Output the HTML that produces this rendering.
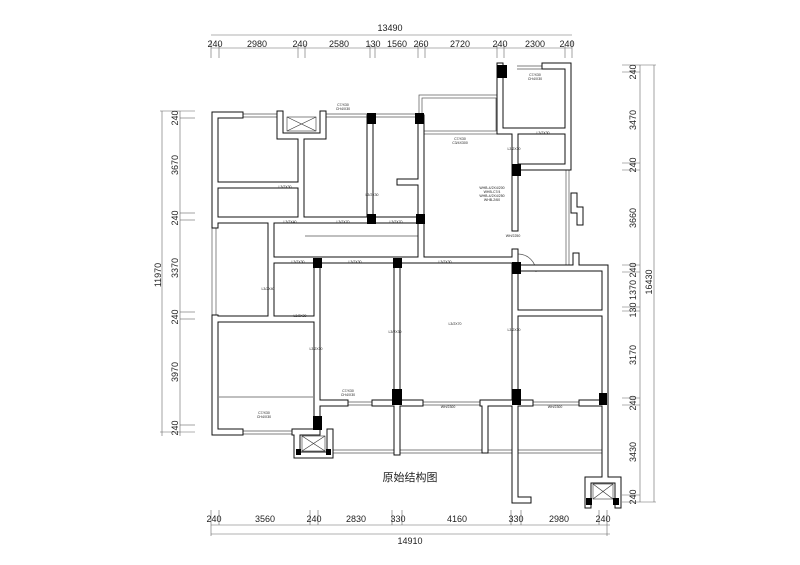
<!DOCTYPE html>
<html><head><meta charset="utf-8"><style>
html,body{margin:0;padding:0;background:#fff;width:800px;height:565px;overflow:hidden}
svg{display:block}
text{font-family:"Liberation Sans","Noto Sans CJK SC",sans-serif;fill:#222}
.d{font-size:9px}
.s{font-size:3.5px}
</style></head><body>
<svg width="800" height="565" viewBox="0 0 800 565" xmlns="http://www.w3.org/2000/svg">
<g stroke="#666" stroke-width="0.6" fill="none">
<line x1="211" y1="35" x2="572" y2="35"/>
<line x1="211" y1="48" x2="572" y2="48"/>
<g>
<line x1="211" y1="40" x2="211" y2="58"/><line x1="219" y1="44" x2="219" y2="58"/>
<line x1="298" y1="44" x2="298" y2="58"/><line x1="305" y1="44" x2="305" y2="58"/>
<line x1="370" y1="44" x2="370" y2="58"/><line x1="375" y1="44" x2="375" y2="58"/>
<line x1="418" y1="44" x2="418" y2="58"/><line x1="425" y1="44" x2="425" y2="58"/>
<line x1="497" y1="44" x2="497" y2="58"/><line x1="504" y1="44" x2="504" y2="58"/>
<line x1="565" y1="44" x2="565" y2="58"/><line x1="572" y1="40" x2="572" y2="58"/>
</g>
<line x1="211" y1="525" x2="610" y2="525"/>
<line x1="211" y1="534" x2="610" y2="534"/>
<line x1="211" y1="510" x2="211" y2="536"/><line x1="219" y1="510" x2="219" y2="525"/>
<line x1="310" y1="510" x2="310" y2="525"/><line x1="318" y1="510" x2="318" y2="525"/>
<line x1="392" y1="510" x2="392" y2="525"/><line x1="402" y1="510" x2="402" y2="525"/>
<line x1="511" y1="510" x2="511" y2="525"/><line x1="521" y1="510" x2="521" y2="525"/>
<line x1="599" y1="510" x2="599" y2="525"/><line x1="607" y1="510" x2="607" y2="536"/>
<line x1="162" y1="111" x2="162" y2="436"/>
<line x1="180" y1="111" x2="180" y2="436"/>
<g>
<line x1="160" y1="111" x2="195" y2="111"/><line x1="180" y1="118" x2="195" y2="118"/>
<line x1="180" y1="213" x2="195" y2="213"/><line x1="180" y1="220" x2="195" y2="220"/>
<line x1="180" y1="312" x2="195" y2="312"/><line x1="180" y1="319" x2="195" y2="319"/>
<line x1="180" y1="425" x2="195" y2="425"/><line x1="160" y1="432" x2="195" y2="432"/>
</g>
<line x1="640" y1="65" x2="640" y2="502"/>
<line x1="654" y1="65" x2="654" y2="502"/>
<g>
<line x1="622" y1="65" x2="656" y2="65"/><line x1="622" y1="72" x2="640" y2="72"/>
<line x1="622" y1="163" x2="640" y2="163"/><line x1="622" y1="170" x2="640" y2="170"/>
<line x1="622" y1="265" x2="640" y2="265"/><line x1="622" y1="272" x2="640" y2="272"/>
<line x1="622" y1="307" x2="640" y2="307"/><line x1="622" y1="311" x2="640" y2="311"/>
<line x1="622" y1="398" x2="640" y2="398"/><line x1="622" y1="405" x2="640" y2="405"/>
<line x1="622" y1="495" x2="640" y2="495"/><line x1="622" y1="502" x2="656" y2="502"/>
</g>
</g>
<g class="d" text-anchor="middle">
<text x="390" y="31">13490</text>
<text x="215" y="47">240</text><text x="257" y="47">2980</text><text x="300" y="47">240</text><text x="339" y="47">2580</text><text x="373" y="47">130</text><text x="397" y="47">1560</text><text x="421" y="47">260</text><text x="460" y="47">2720</text><text x="500" y="47">240</text><text x="535" y="47">2300</text><text x="567" y="47">240</text>
<text x="214" y="522">240</text><text x="265" y="522">3560</text><text x="314" y="522">240</text><text x="356" y="522">2830</text><text x="398" y="522">330</text><text x="457" y="522">4160</text><text x="516" y="522">330</text><text x="559" y="522">2980</text><text x="603" y="522">240</text>
<text x="410" y="544">14910</text>
<text transform="translate(178,118) rotate(-90)">240</text>
<text transform="translate(178,165) rotate(-90)">3670</text>
<text transform="translate(178,218) rotate(-90)">240</text>
<text transform="translate(178,268) rotate(-90)">3370</text>
<text transform="translate(178,317) rotate(-90)">240</text>
<text transform="translate(178,372) rotate(-90)">3970</text>
<text transform="translate(178,428) rotate(-90)">240</text>
<text transform="translate(161,275) rotate(-90)">11970</text>
<text transform="translate(636,72) rotate(-90)">240</text>
<text transform="translate(636,120) rotate(-90)">3470</text>
<text transform="translate(636,165) rotate(-90)">240</text>
<text transform="translate(636,218) rotate(-90)">3660</text>
<text transform="translate(636,270) rotate(-90)">240</text>
<text transform="translate(636,290) rotate(-90)">1370</text>
<text transform="translate(636,310) rotate(-90)">130</text>
<text transform="translate(636,355) rotate(-90)">3170</text>
<text transform="translate(636,403) rotate(-90)">240</text>
<text transform="translate(636,452) rotate(-90)">3430</text>
<text transform="translate(636,497) rotate(-90)">240</text>
<text transform="translate(652,282) rotate(-90)">16430</text>
</g>

<g stroke="#555" stroke-width="0.7" fill="none">
<line x1="240" y1="114" x2="280" y2="114"/><line x1="240" y1="117" x2="280" y2="117"/>
<line x1="323" y1="114" x2="367" y2="114"/><line x1="323" y1="117" x2="367" y2="117"/>
<line x1="376" y1="114" x2="415" y2="114"/><line x1="376" y1="117" x2="415" y2="117"/>
<line x1="212" y1="225" x2="212" y2="318"/><line x1="216" y1="225" x2="216" y2="318"/>
<line x1="240" y1="431" x2="295" y2="431"/><line x1="240" y1="434" x2="295" y2="434"/>
<rect x="419" y="95" width="80" height="39"/><rect x="422" y="98" width="74" height="33"/>
<line x1="517" y1="66" x2="545" y2="66"/><line x1="517" y1="69" x2="545" y2="69"/>
<line x1="566" y1="168" x2="566" y2="265"/><line x1="569" y1="168" x2="569" y2="265"/>
<line x1="345" y1="402" x2="375" y2="402"/><line x1="345" y1="405" x2="375" y2="405"/>
<line x1="420" y1="402" x2="483" y2="402"/><line x1="420" y1="405" x2="483" y2="405"/>
<line x1="530" y1="402" x2="582" y2="402"/><line x1="530" y1="405" x2="582" y2="405"/>
<line x1="330" y1="450" x2="512" y2="450"/><line x1="330" y1="453" x2="512" y2="453"/>
<line x1="512" y1="451" x2="512" y2="498"/><line x1="515" y1="451" x2="515" y2="498"/>
<line x1="518" y1="450" x2="602" y2="450"/><line x1="518" y1="453" x2="602" y2="453"/>
<line x1="219" y1="397" x2="313" y2="397"/>
<line x1="305" y1="236" x2="421" y2="236"/>
<path d="M518,254 A18,18 0 0 1 536,272"/>
</g>

<g fill="none" stroke-linejoin="miter" stroke-linecap="square">
<g stroke="#111" stroke-width="7">
<path d="M240,115 L215,115 L215,225"/>
<path d="M215,318 L215,432 L240,432"/>
<path d="M280,114 L280,136 L323,136 L323,114"/>
<path d="M301,136 L301,220"/>
<path d="M218,185 L301,185"/>
<path d="M215,220 L421,220"/>
<path d="M370,118 L370,220"/>
<path d="M421,118 L421,258"/>
<path d="M400,182 L418,182"/>
<path d="M271,220 L271,318"/>
<path d="M271,260 L515,260"/>
<path d="M215,319 L317,319"/>
<path d="M317,260 L317,432"/>
<path d="M397,260 L397,452"/>
<path d="M515,135 L515,228"/>
<path d="M515,252 L515,500 L528,500"/>
<path d="M500,66 L500,131 L568,131"/>
<path d="M545,66 L568,66 L568,167 L518,167"/>
<path d="M574,196 L574,210 L580,210 L580,222"/>
<path d="M515,268 L605,268 L605,480"/>
<path d="M576,256 L576,268"/>
<path d="M518,313 L602,313"/>
<path d="M320,403 L345,403"/><path d="M375,403 L420,403"/>
<path d="M483,403 L530,403"/><path d="M582,403 L605,403"/>
<path d="M485,403 L485,450"/>
<path d="M295,432 L317,432"/>
<path d="M297,432 L297,455 L330,455 L330,432"/>
<path d="M588,480 L618,480 L618,505"/>
<path d="M588,480 L588,505"/>
</g>
<g stroke="#fff" stroke-width="5">
<path d="M240,115 L215,115 L215,225"/>
<path d="M215,318 L215,432 L240,432"/>
<path d="M280,114 L280,136 L323,136 L323,114"/>
<path d="M301,136 L301,220"/>
<path d="M218,185 L301,185"/>
<path d="M215,220 L421,220"/>
<path d="M370,118 L370,220"/>
<path d="M421,118 L421,258"/>
<path d="M400,182 L418,182"/>
<path d="M271,220 L271,318"/>
<path d="M271,260 L515,260"/>
<path d="M215,319 L317,319"/>
<path d="M317,260 L317,432"/>
<path d="M397,260 L397,452"/>
<path d="M515,135 L515,228"/>
<path d="M515,252 L515,500 L528,500"/>
<path d="M500,66 L500,131 L568,131"/>
<path d="M545,66 L568,66 L568,167 L518,167"/>
<path d="M574,196 L574,210 L580,210 L580,222"/>
<path d="M515,268 L605,268 L605,480"/>
<path d="M576,256 L576,268"/>
<path d="M518,313 L602,313"/>
<path d="M320,403 L345,403"/><path d="M375,403 L420,403"/>
<path d="M483,403 L530,403"/><path d="M582,403 L605,403"/>
<path d="M485,403 L485,450"/>
<path d="M295,432 L317,432"/>
<path d="M297,432 L297,455 L330,455 L330,432"/>
<path d="M588,480 L618,480 L618,505"/>
<path d="M588,480 L588,505"/>
</g>
</g>

<g stroke="#333" stroke-width="0.6" fill="none">
<rect x="287" y="117" width="29" height="14"/><path d="M287,117 L316,131 M316,117 L287,131"/>
<rect x="302" y="436" width="23" height="15"/><path d="M302,436 L325,451 M325,436 L302,451"/>
<rect x="593" y="484" width="20" height="15"/><path d="M593,484 L613,499 M613,484 L593,499"/>
</g>

<g fill="#000">
<rect x="367" y="113" width="9" height="11"/><rect x="415" y="113" width="9" height="11"/>
<rect x="497" y="65" width="10" height="13"/>
<rect x="367" y="214" width="9" height="10"/><rect x="416" y="214" width="9" height="10"/>
<rect x="512" y="164" width="9" height="12"/>
<rect x="313" y="258" width="9" height="10"/><rect x="393" y="258" width="9" height="10"/>
<rect x="512" y="262" width="9" height="12"/>
<rect x="392" y="389" width="10" height="16"/><rect x="512" y="389" width="9" height="16"/>
<rect x="599" y="393" width="8" height="12"/>
<rect x="313" y="416" width="9" height="14"/>
<rect x="296" y="449" width="5" height="6"/><rect x="326" y="449" width="5" height="6"/>
<rect x="586" y="498" width="6" height="7"/><rect x="613" y="498" width="6" height="7"/>
</g>

<g class="s" text-anchor="middle">
<text x="343" y="106">C7/X30</text><text x="343" y="110">CH4/X30</text>
<text x="460" y="140">C7/X30</text><text x="460" y="144">C3/4X300</text>
<text x="535" y="76">C7/X30</text><text x="535" y="80">CH4/X30</text>
<text x="543" y="134">L3/2X30</text><text x="514" y="150">L3/2X30</text>
<text x="285" y="188">L3/2X30</text><text x="372" y="196">L3/2X30</text>
<text x="290" y="223">L3/2X40</text><text x="343" y="223">L3/2X70</text><text x="396" y="223">L3/2X70</text>
<text x="298" y="263">L3/2X30</text><text x="355" y="263">L3/2X30</text><text x="445" y="263">L3/2X30</text>
<text x="268" y="290">L3/2X40</text><text x="300" y="317">L3/2X30</text>
<text x="316" y="350">L3/2X30</text><text x="395" y="333">L3/2X30</text><text x="455" y="325">L3/2X70</text><text x="514" y="331">L3/2X30</text>
<text x="348" y="392">C7/X30</text><text x="348" y="396">CH4/X30</text>
<text x="264" y="414">C7/X30</text><text x="264" y="418">CH4/X30</text>
<text x="448" y="408">WH/2300</text><text x="555" y="408">WH/2300</text>
<text x="513" y="237">WH/2250</text>
<text x="492" y="189">WHB-4/2X4/200</text><text x="492" y="193">WHB-C7/4</text><text x="492" y="197">WHB-4/2X4/250</text><text x="492" y="201">WHB-2/60</text>
</g>

<text x="410" y="481" font-size="11" text-anchor="middle">原始结构图</text>
</svg>
</body></html>
